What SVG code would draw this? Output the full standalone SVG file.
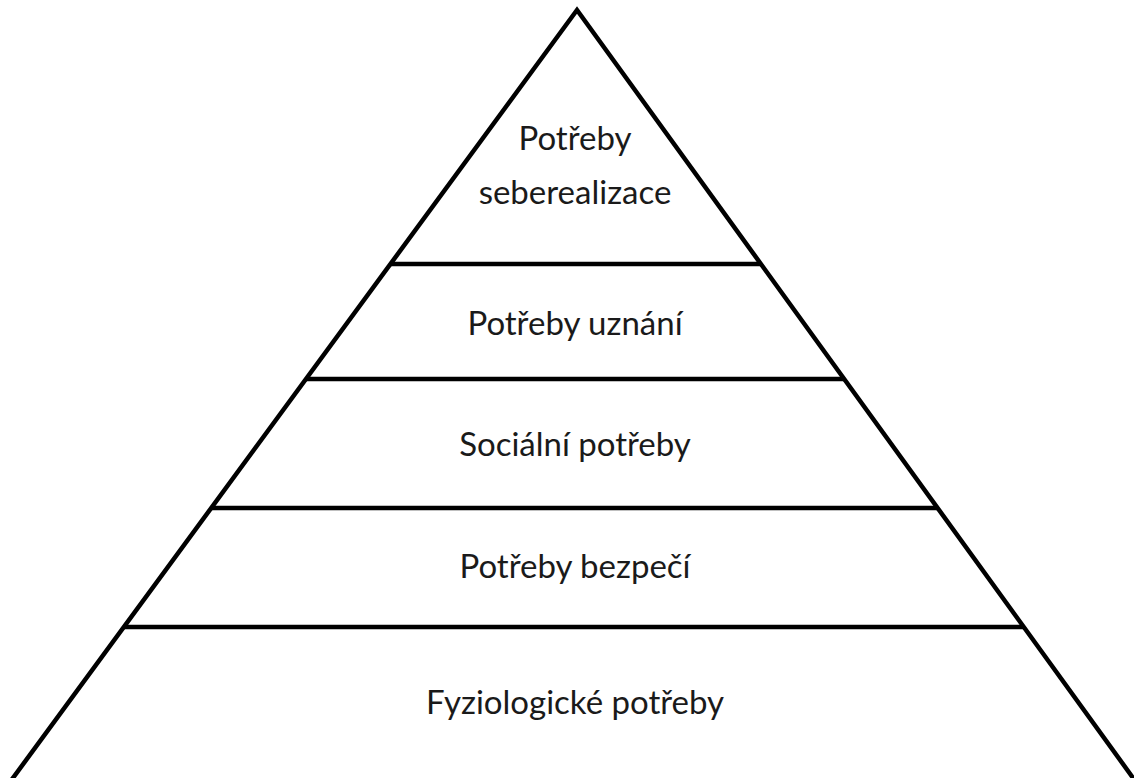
<svg xmlns="http://www.w3.org/2000/svg" width="1134" height="778" viewBox="0 0 1134 778">
<style>
.ln{stroke:#000;stroke-width:4.5;fill:none}
.t{font-family:Lato,"Open Sans","Liberation Sans",sans-serif;font-size:33px;fill:#1a1a1a;text-anchor:middle}
</style>
<rect width="1134" height="778" fill="#fff"/>
<g id="connectors">
<polyline class="ln" points="10,782 577,10 1136,782" stroke-linejoin="miter"/>
<line class="ln" x1="391" y1="264" x2="761" y2="264"/>
<line class="ln" x1="306" y1="379" x2="844" y2="379"/>
<line class="ln" x1="211" y1="508" x2="937" y2="508"/>
<line class="ln" x1="124" y1="627" x2="1024" y2="627"/>
</g>
<g id="n1"><text class="t" x="575" y="150">Potřeby</text><text class="t" x="575" y="204">seberealizace</text></g>
<g id="n2"><text class="t" x="575" y="335">Potřeby uznání</text></g>
<g id="n3"><text class="t" x="575" y="456">Sociální potřeby</text></g>
<g id="n4"><text class="t" x="575" y="578">Potřeby bezpečí</text></g>
<g id="n5"><text class="t" x="575" y="714">Fyziologické potřeby</text></g>
</svg>
